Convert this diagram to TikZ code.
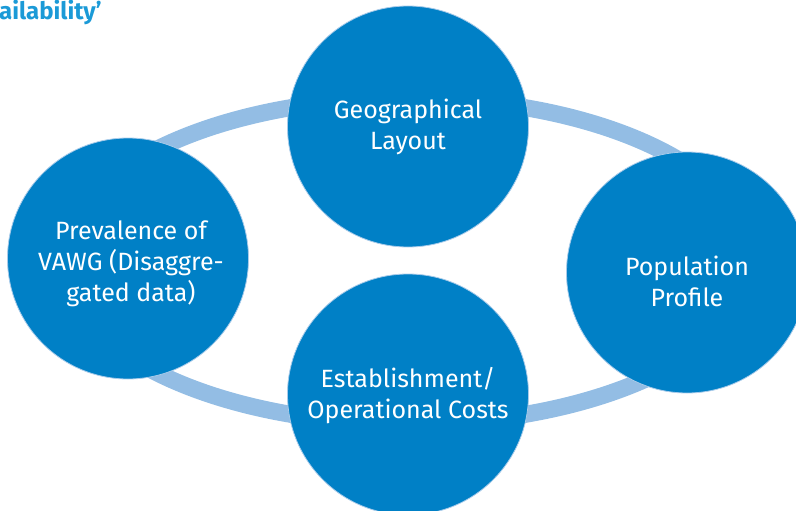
\documentclass[tikz,border=0pt]{standalone}
\usepackage{fontspec}
\setmainfont{Fira Sans}
\definecolor{circblue}{HTML}{0080C6}
\definecolor{ringblue}{HTML}{93BDE4}
\definecolor{edgeblue}{HTML}{A9CBEA}
\definecolor{titleblue}{HTML}{1B9AD7}
\begin{document}
\begin{tikzpicture}[x=1pt,y=-1pt,
  bubble/.style={circle, minimum size=241pt, inner sep=0pt, fill=circblue,
    draw=edgeblue, line width=0.8pt},
  bubbletext/.style={inner sep=0pt, text=white, align=center,
    font=\fontsize{25}{31}\selectfont},
  ring/.style={draw=ringblue, line width=17pt}]
\useasboundingbox (0,0) rectangle (796,511);
\clip (0,0) rectangle (796,511);
\draw[ring] (408,261) ellipse [x radius=345, y radius=163];
\node[bubble] (geo) at (408,126.5) {};
\node[bubble] (prev) at (128,258.5) {};
\node[bubble] (pop) at (687,272.5) {};
\node[bubble] (est) at (408,394.5) {};
\node[bubbletext] (geotext) at (geo.center) {Geographical\\Layout};
\node[bubbletext] (prevtext) at ([xshift=3pt,yshift=-5pt]prev.center) {Prevalence of\\VAWG (Disaggre-\\gated data)};
\node[bubbletext] (poptext) at ([yshift=-9pt]pop.center) {Population\\Profile};
\node[bubbletext] (esttext) at ([yshift=-1pt]est.center) {Establishment/\\Operational Costs};
\node[anchor=base west, inner sep=0pt, text=titleblue,
  font=\fontsize{24}{28}\bfseries\selectfont] (title) at (-1,20) {ailability’};
\end{tikzpicture}
\end{document}
